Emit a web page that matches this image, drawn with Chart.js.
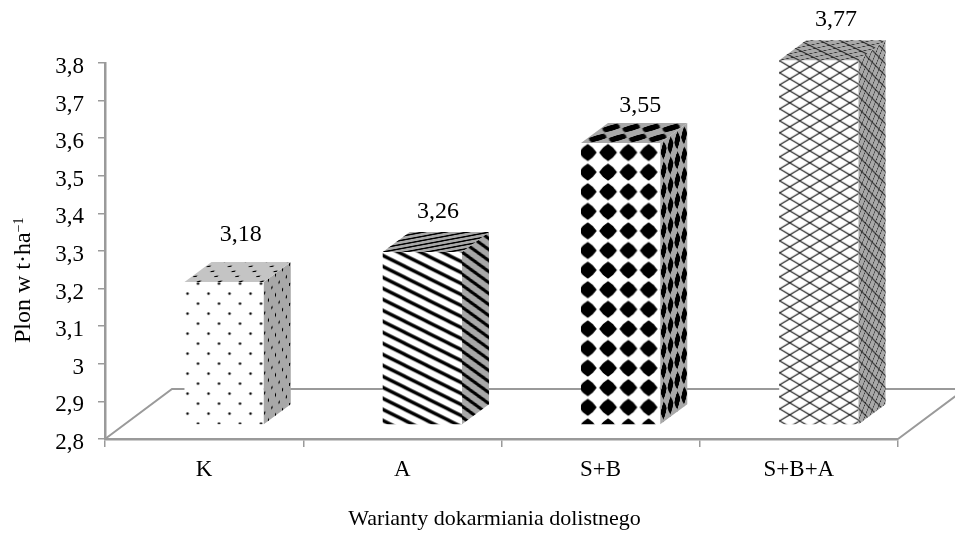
<!DOCTYPE html>
<html><head><meta charset="utf-8">
<style>html,body{margin:0;padding:0;background:#fff}canvas{display:block}</style>
<script src="https://cdn.jsdelivr.net/npm/chart.js@4"></script></head>
<body><div style="width:955px;height:533px"><canvas id="c"></canvas></div>
<script>
const categories = ['K','A','S+B','S+B+A'];
const values = [3.18,3.26,3.55,3.77];
const yTickLabels = {2.8:'2,8',2.9:'2,9',3:'3',3.1:'3,1',3.2:'3,2',3.3:'3,3',3.4:'3,4',3.5:'3,5',3.6:'3,6',3.7:'3,7',3.8:'3,8'};
const xTitle = 'Warianty dokarmiania dolistnego';
const yTitle = 'Plon w t·ha';
const yTitleSup = '−1';

const FONT = '"Liberation Serif"';
const AXIS = '#9a9a9a';
const DX = 27, DY = 20, SHIFT_X = 20, SHIFT_Y = -14, FLOOR_DX = 67, FLOOR_DY = 50;
const LABEL_LIFT = [21, 14, 11, 14];
const LABEL_NUDGE = [1, 0, 4, 1.5];

function tile(w,h,bg,draw,heavy){
  const c=document.createElement('canvas');c.width=w;c.height=h;
  const x=c.getContext('2d');
  if(bg){x.fillStyle=bg;x.fillRect(0,0,w,h);}
  x.fillStyle='#000';x.strokeStyle='#000';draw(x,w,h,heavy);return c;
}
const dots=(x,w,h,heavy)=>{for(const [a,b] of [[3,11.5],[13.5,1.5]]){x.beginPath();x.arc(a,b,heavy?1.8:1.25,0,7);x.fill();}
  if(heavy){x.beginPath();x.arc(13.5,21.5,1.8,0,7);x.fill();}};
const stripes=(x,w,h)=>{x.lineWidth=3.4;for(let k=-1;k<=1;k++){x.beginPath();x.moveTo(-2,k*h-1);x.lineTo(w+2,k*h+h+1);x.stroke();}};
const diamonds=(x,w,h)=>{const a=w/2,b=h/2,r=8.8,q=4.9;x.beginPath();x.moveTo(a,b-r);
  x.lineTo(a+q,b-q);x.lineTo(a+r,b);x.lineTo(a+q,b+q);x.lineTo(a,b+r);x.lineTo(a-q,b+q);x.lineTo(a-r,b);x.lineTo(a-q,b-q);x.closePath();x.fill();};
const lattice=(x,w,h)=>{x.lineWidth=1.1;x.strokeStyle='#222';for(let k=-1;k<=1;k++){
  x.beginPath();x.moveTo(0,k*h);x.lineTo(w,k*h+h);x.stroke();
  x.beginPath();x.moveTo(0,k*h+h);x.lineTo(w,k*h);x.stroke();}};
const looks=[
 {w:21,h:20,d:dots,top:'#c4c4c4',side:'#a8a8a8',phase:[0,0],sx:1,sy:1},
 {w:22,h:11,d:stripes,top:'#a8a8a8',side:'#a8a8a8',phase:[0,3.3],sx:1,sy:1},
 {w:20,h:20,d:diamonds,top:'#a8a8a8',side:'#a8a8a8',phase:[-3.4,-0.3],sx:1.015,sy:0.98},
 {w:20,h:12,d:lattice,top:'#a8a8a8',side:'#a8a8a8',phase:[0.5,0.5],sx:1,sy:1}
];
const ctx0=document.getElementById('c').getContext('2d');
const frontPatterns=looks.map(l=>ctx0.createPattern(tile(l.w,l.h,'#fff',l.d,false),'repeat'));
const markPatterns=looks.map(l=>ctx0.createPattern(tile(l.w,l.h,null,l.d,true),'repeat'));

function face(ctx,pts,base,pat,a,b,c,d,e,f){
  ctx.save();ctx.beginPath();pts.forEach((p,i)=>i?ctx.lineTo(p[0],p[1]):ctx.moveTo(p[0],p[1]));ctx.closePath();
  ctx.fillStyle=base;ctx.fill();ctx.clip();
  ctx.transform(a,b,c,d,e,f);ctx.fillStyle=pat;ctx.fillRect(-40,-40,400,600);ctx.restore();
}
const bars3d={id:'bars3d',
  beforeDatasetsDraw(chart){
    const {ctx,chartArea:A}=chart;
    ctx.save();ctx.strokeStyle=AXIS;ctx.lineWidth=2;ctx.beginPath();
    ctx.moveTo(A.left,A.bottom);ctx.lineTo(A.left+FLOOR_DX,A.bottom-FLOOR_DY);ctx.lineTo(chart.width,A.bottom-FLOOR_DY);
    ctx.moveTo(A.right,A.bottom);ctx.lineTo(A.right+FLOOR_DX,A.bottom-FLOOR_DY);ctx.stroke();ctx.restore();
    chart.getDatasetMeta(0).data.forEach((b,i)=>{
      const l=looks[i],m=new DOMMatrix();
      m.translateSelf(b.x-b.width/2+l.phase[0],b.y+l.phase[1]);m.scaleSelf(l.sx,l.sy);
      frontPatterns[i].setTransform(m);
    });
    ctx.save();ctx.translate(SHIFT_X,SHIFT_Y);
  },
  afterDatasetsDraw(chart){
    const {ctx}=chart;
    chart.getDatasetMeta(0).data.forEach((b,i)=>{
      const l=b.x-b.width/2,r=b.x+b.width/2,t=b.y,bt=b.base,w=b.width;
      face(ctx,[[r,t],[r+DX,t-DY],[r+DX,bt-DY],[r,bt]],looks[i].side,markPatterns[i],DX/w,-DY/w,0,1,r,t);
      face(ctx,[[l,t],[l+DX,t-DY],[r+DX,t-DY],[r,t]],looks[i].top,markPatterns[i],1,0,DX/DY*0.5,-0.5,l,t);
    });
    ctx.restore();
    ctx.save();ctx.fillStyle='#000';ctx.font='24px '+FONT;ctx.textAlign='center';ctx.textBaseline='alphabetic';
    chart.getDatasetMeta(0).data.forEach((b,i)=>{
      ctx.fillText(values[i].toFixed(2).replace('.',','),b.x+SHIFT_X+DX/2+2+LABEL_NUDGE[i],b.y+SHIFT_Y-DY-LABEL_LIFT[i]);
    });
    ctx.font='22px '+FONT;ctx.fillText(xTitle,494.5,525);
    ctx.font='24px '+FONT;ctx.textAlign='left';ctx.translate(30,343);ctx.rotate(-Math.PI/2);ctx.fillText(yTitle,0,0);
    const w=ctx.measureText(yTitle).width;
    ctx.font='14px '+FONT;ctx.fillText(yTitleSup,w,-7);
    ctx.restore();
  }
};
new Chart(ctx0,{type:'bar',
  data:{labels:categories,datasets:[{data:values,backgroundColor:frontPatterns,borderWidth:0,clip:false,base:2.8}]},
  options:{responsive:true,maintainAspectRatio:false,animation:false,
    layout:{padding:{top:63,right:57,left:0,bottom:0}},
    plugins:{legend:{display:false},tooltip:{enabled:false}},
    datasets:{bar:{categoryPercentage:1,barPercentage:0.4}},
    scales:{
      x:{grid:{display:true,drawOnChartArea:false,drawTicks:true,tickLength:8,color:AXIS,lineWidth:1.5},
         border:{color:AXIS,width:2.5},
         ticks:{color:'#000',font:{family:FONT,size:23},padding:9,maxRotation:0},
         afterFit(s){s.height=94;}},
      y:{min:2.8,max:3.8,grid:{display:true,drawOnChartArea:false,drawTicks:true,tickLength:7,color:AXIS,lineWidth:1.5},
         border:{color:AXIS,width:2.5},
         ticks:{stepSize:0.1,color:'#000',font:{family:FONT,size:23},padding:14,labelOffset:4,
           callback:v=>yTickLabels[Math.round(v*10)/10]},
         afterFit(s){s.width=105;}}
    }}, plugins:[bars3d]});
</script></body></html>
